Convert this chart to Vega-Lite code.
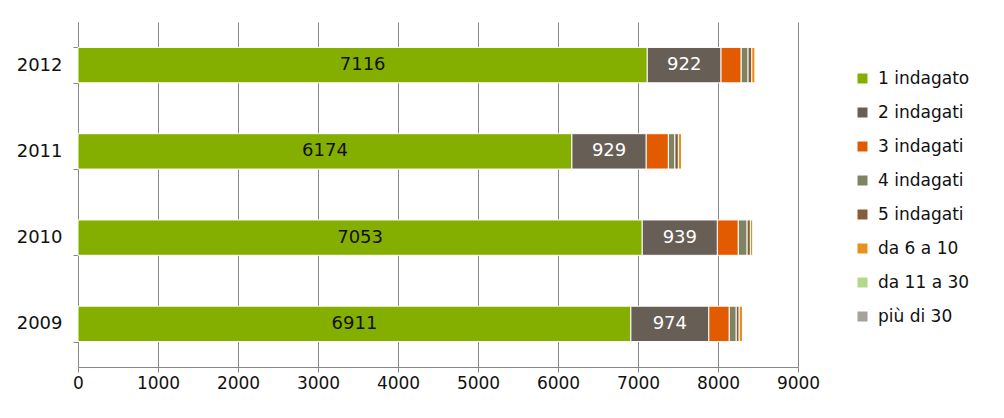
{
  "$schema": "https://vega.github.io/schema/vega-lite/v6.json",
  "autosize": "none",
  "width": 720,
  "height": 345,
  "padding": {"left": 78, "top": 22, "right": 206, "bottom": 51},
  "background": "white",
  "config": {
    "font": "DejaVu Sans",
    "view": {"stroke": null},
    "axis": {"labelFont": "DejaVu Sans", "labelFontSize": 17, "labelColor": "#111111", "domainColor": "#888888", "tickColor": "#888888", "gridColor": "#888888", "title": null}
  },
  "data": {
    "values": [
      {"year": "2012", "cat": "1 indagato", "ord": 1, "value": 7116},
      {"year": "2012", "cat": "2 indagati", "ord": 2, "value": 922},
      {"year": "2012", "cat": "3 indagati", "ord": 3, "value": 252},
      {"year": "2012", "cat": "4 indagati", "ord": 4, "value": 86},
      {"year": "2012", "cat": "5 indagati", "ord": 5, "value": 46},
      {"year": "2012", "cat": "da 6 a 10", "ord": 6, "value": 42},
      {"year": "2012", "cat": "da 11 a 30", "ord": 7, "value": 8},
      {"year": "2012", "cat": "più di 30", "ord": 8, "value": 3},
      {"year": "2011", "cat": "1 indagato", "ord": 1, "value": 6174},
      {"year": "2011", "cat": "2 indagati", "ord": 2, "value": 929},
      {"year": "2011", "cat": "3 indagati", "ord": 3, "value": 277},
      {"year": "2011", "cat": "4 indagati", "ord": 4, "value": 81},
      {"year": "2011", "cat": "5 indagati", "ord": 5, "value": 44},
      {"year": "2011", "cat": "da 6 a 10", "ord": 6, "value": 40},
      {"year": "2011", "cat": "da 11 a 30", "ord": 7, "value": 8},
      {"year": "2011", "cat": "più di 30", "ord": 8, "value": 3},
      {"year": "2010", "cat": "1 indagato", "ord": 1, "value": 7053},
      {"year": "2010", "cat": "2 indagati", "ord": 2, "value": 939},
      {"year": "2010", "cat": "3 indagati", "ord": 3, "value": 262},
      {"year": "2010", "cat": "4 indagati", "ord": 4, "value": 110},
      {"year": "2010", "cat": "5 indagati", "ord": 5, "value": 41},
      {"year": "2010", "cat": "da 6 a 10", "ord": 6, "value": 31},
      {"year": "2010", "cat": "da 11 a 30", "ord": 7, "value": 8},
      {"year": "2010", "cat": "più di 30", "ord": 8, "value": 3},
      {"year": "2009", "cat": "1 indagato", "ord": 1, "value": 6911},
      {"year": "2009", "cat": "2 indagati", "ord": 2, "value": 974},
      {"year": "2009", "cat": "3 indagati", "ord": 3, "value": 256},
      {"year": "2009", "cat": "4 indagati", "ord": 4, "value": 87},
      {"year": "2009", "cat": "5 indagati", "ord": 5, "value": 37},
      {"year": "2009", "cat": "da 6 a 10", "ord": 6, "value": 44},
      {"year": "2009", "cat": "da 11 a 30", "ord": 7, "value": 8},
      {"year": "2009", "cat": "più di 30", "ord": 8, "value": 3}
    ]
  },
  "encoding": {
    "y": {
      "field": "year", "type": "nominal", "sort": "descending",
      "scale": {"paddingInner": 0.59, "paddingOuter": 0.295},
      "axis": {"tickBand": "extent", "tickSize": 5, "labelPadding": 11, "labelFontSize": 18, "domainColor": "#888888"}
    }
  },
  "layer": [
    {
      "mark": {"type": "bar", "stroke": "white", "strokeWidth": 1},
      "encoding": {
        "x": {
          "field": "value", "type": "quantitative", "stack": "zero",
          "scale": {"domain": [0, 9000], "nice": false},
          "axis": {"values": [0,1000,2000,3000,4000,5000,6000,7000,8000,9000], "grid": true, "tickSize": 5, "labelPadding": 3, "labelFlush": false, "format": "d"}
        },
        "order": {"field": "ord", "type": "quantitative"},
        "color": {
          "field": "cat", "type": "nominal",
          "scale": {
            "domain": ["1 indagato", "2 indagati", "3 indagati", "4 indagati", "5 indagati", "da 6 a 10", "da 11 a 30", "più di 30"],
            "range": ["#84AF00", "#675E56", "#E35B00", "#7E8461", "#875C3A", "#E8901E", "#B3D88A", "#A5A19B"]
          },
          "legend": {
            "title": null, "orient": "none", "legendX": 776, "legendY": 48,
            "symbolType": "square", "symbolSize": 100, "symbolStrokeWidth": 0,
            "labelFontSize": 17, "labelFont": "DejaVu Sans", "labelColor": "#111111",
            "rowPadding": 16, "labelOffset": 7
          }
        }
      }
    },
    {
      "mark": {"type": "text", "fontSize": 18, "font": "DejaVu Sans", "baseline": "middle", "align": "center"},
      "encoding": {
        "x": {"field": "value", "type": "quantitative", "stack": "zero", "bandPosition": 0.5},
        "order": {"field": "ord", "type": "quantitative"},
        "detail": {"field": "cat"},
        "color": {"condition": {"test": "datum.ord == 1", "value": "#111111"}, "value": "white"},
        "text": {"condition": {"test": "datum.ord <= 2", "field": "value", "type": "quantitative"}, "value": ""}
      }
    }
  ]
}
